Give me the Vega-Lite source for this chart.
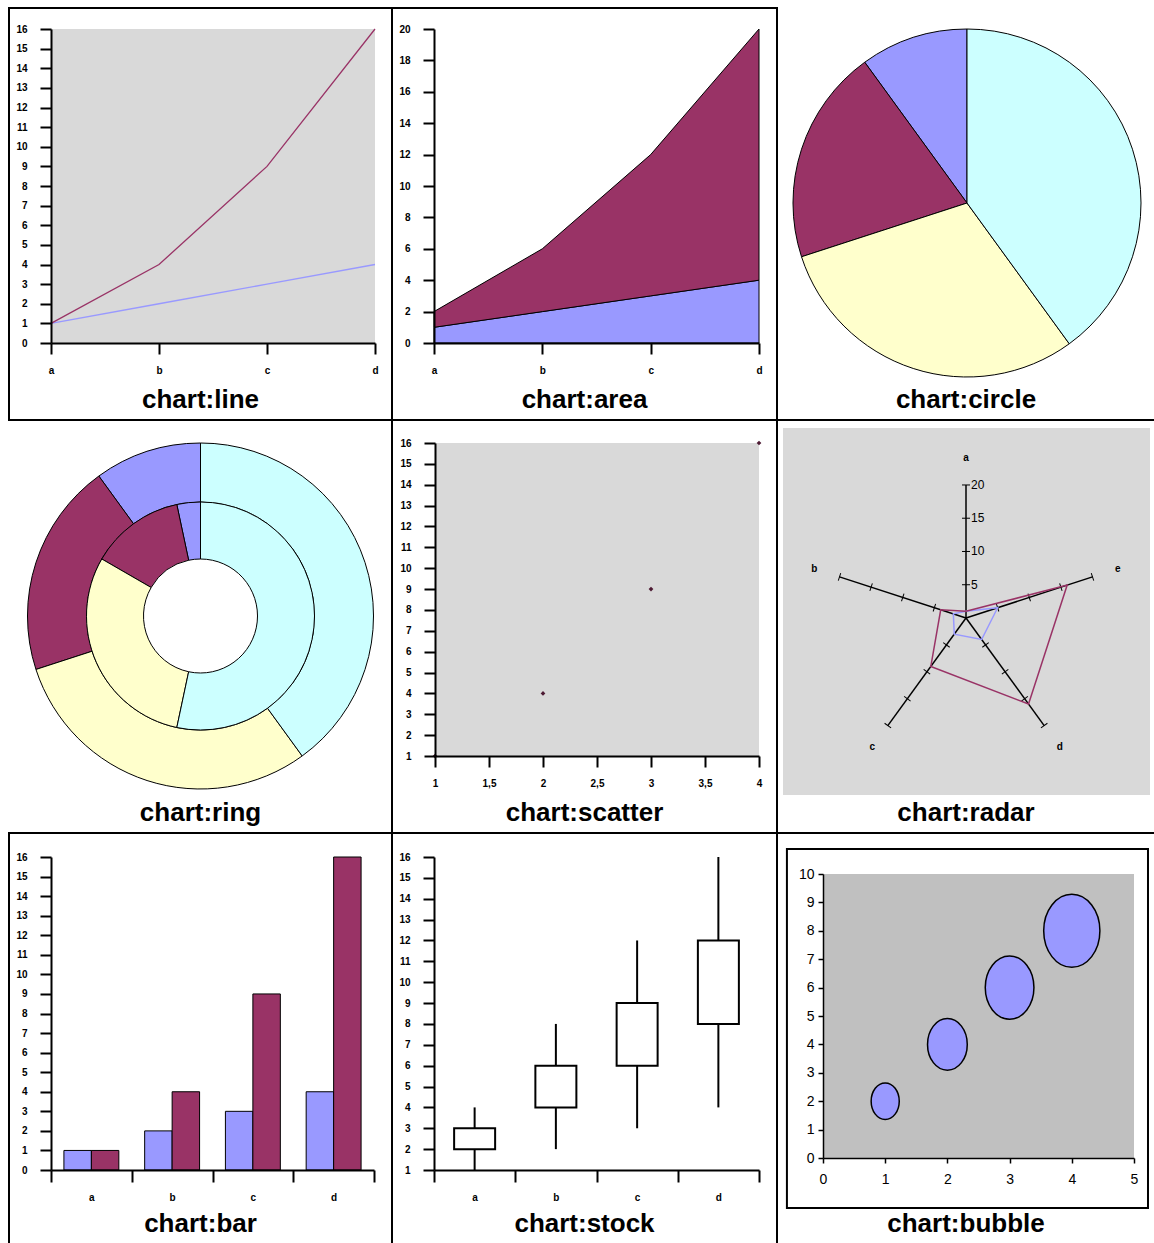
{
  "$schema": "https://vega.github.io/schema/vega-lite/v6.json",
  "padding": {"left": 8, "top": 7, "right": 0, "bottom": 0},
  "background": "white",
  "columns": 3,
  "spacing": 0,
  "bounds": "flush",
  "resolve": {"scale": {"color": "independent", "size": "independent", "theta": "independent"}},
  "config": {
    "view": {"stroke": "black", "strokeWidth": 2, "fill": "white"},
    "axis": {"grid": false, "zindex": 1, "domainColor": "black", "domainWidth": 2, "tickColor": "black", "tickWidth": 2, "tickSize": 11, "labelColor": "black", "labelFont": "Liberation Sans", "labelFontSize": 10, "labelFontWeight": "bold", "labelPadding": 13, "labelOverlap": false, "labelFlush": false},
    "title": {"font": "Liberation Sans", "fontSize": 26, "fontWeight": "bold", "color": "black", "orient": "bottom", "offset": -33, "anchor": "middle", "baseline": "top"},
    "legend": {"disable": true}
  },
  "datasets": {
    "series": [
      {"cat": "a", "i": 1, "series": "Series1", "v": 1},
      {"cat": "b", "i": 2, "series": "Series1", "v": 2},
      {"cat": "c", "i": 3, "series": "Series1", "v": 3},
      {"cat": "d", "i": 4, "series": "Series1", "v": 4},
      {"cat": "a", "i": 1, "series": "Series2", "v": 1},
      {"cat": "b", "i": 2, "series": "Series2", "v": 4},
      {"cat": "c", "i": 3, "series": "Series2", "v": 9},
      {"cat": "d", "i": 4, "series": "Series2", "v": 16}
    ],
    "pie": [{"cat": "a", "v": 1}, {"cat": "b", "v": 2}, {"cat": "c", "v": 3}, {"cat": "d", "v": 4}],
    "ringInner": [{"cat": "a", "v": 1}, {"cat": "b", "v": 4}, {"cat": "c", "v": 9}, {"cat": "d", "v": 16}],
    "scatter": [{"x": 1, "y": 1}, {"x": 2, "y": 4}, {"x": 3, "y": 9}, {"x": 4, "y": 16}],
    "radarAxes": [{"axis": "a", "k": 0}, {"axis": "b", "k": 1}, {"axis": "c", "k": 2}, {"axis": "d", "k": 3}, {"axis": "e", "k": 4}],
    "radarTicks": [
      {"axis": "a", "k": 0, "t": [5, 10, 15, 20]},
      {"axis": "b", "k": 1, "t": [5, 10, 15, 20]},
      {"axis": "c", "k": 2, "t": [5, 10, 15, 20]},
      {"axis": "d", "k": 3, "t": [5, 10, 15, 20]},
      {"axis": "e", "k": 4, "t": [5, 10, 15, 20]}
    ],
    "radarSeries": [
      {"axis": "a", "k": 0, "series": "Series1", "v": 1},
      {"axis": "b", "k": 1, "series": "Series1", "v": 2},
      {"axis": "c", "k": 2, "series": "Series1", "v": 3},
      {"axis": "d", "k": 3, "series": "Series1", "v": 4},
      {"axis": "e", "k": 4, "series": "Series1", "v": 5},
      {"axis": "a", "k": 0, "series": "Series2", "v": 1},
      {"axis": "b", "k": 1, "series": "Series2", "v": 4},
      {"axis": "c", "k": 2, "series": "Series2", "v": 9},
      {"axis": "d", "k": 3, "series": "Series2", "v": 16},
      {"axis": "e", "k": 4, "series": "Series2", "v": 16}
    ],
    "radarScale": [{"t": 5}, {"t": 10}, {"t": 15}, {"t": 20}],
    "stock": [
      {"cat": "a", "low": 1, "open": 2, "close": 3, "high": 4},
      {"cat": "b", "low": 2, "open": 4, "close": 6, "high": 8},
      {"cat": "c", "low": 3, "open": 6, "close": 9, "high": 12},
      {"cat": "d", "low": 4, "open": 8, "close": 12, "high": 16}
    ],
    "bubble": [{"x": 1, "y": 2, "s": 1}, {"x": 2, "y": 4, "s": 2}, {"x": 3, "y": 6, "s": 3}, {"x": 4, "y": 8, "s": 4}],
    "one": [{"frame": 1}]
  },
  "concat": [
    {
      "width": 383, "height": 412,
      "title": "chart:line",
      "data": {"name": "series"},
      "layer": [
        {"data": {"name": "one"}, "mark": {"type": "rect", "color": "#D9D9D9"},
         "encoding": {
           "x": {"datum": 1, "type": "quantitative", "scale": {"domain": [1, 4], "range": [42, 366], "nice": false, "zero": false},
                 "axis": {"title": null, "zindex": 1, "values": [1, 2, 3, 4], "labelExpr": "['','a','b','c','d'][datum.value]", "offset": -77, "labelPadding": 11}},
           "x2": {"datum": 4},
           "y": {"datum": 0, "type": "quantitative", "scale": {"domain": [0, 16], "range": [335, 21], "nice": false},
                 "axis": {"title": null, "zindex": 1, "values": [0, 1, 2, 3, 4, 5, 6, 7, 8, 9, 10, 11, 12, 13, 14, 15, 16], "offset": -42}},
           "y2": {"datum": 16}}},
        {"mark": {"type": "line", "strokeWidth": 1.3},
         "encoding": {
           "x": {"field": "i", "type": "quantitative", "scale": {"domain": [1, 4], "range": [42, 366], "nice": false, "zero": false},
                 "axis": {"title": null, "zindex": 1, "values": [1, 2, 3, 4], "labelExpr": "['','a','b','c','d'][datum.value]", "offset": -77, "labelPadding": 11}},
           "y": {"field": "v", "type": "quantitative", "scale": {"domain": [0, 16], "range": [335, 21], "nice": false},
                 "axis": {"title": null, "zindex": 1, "values": [0, 1, 2, 3, 4, 5, 6, 7, 8, 9, 10, 11, 12, 13, 14, 15, 16], "offset": -42}},
           "color": {"field": "series", "type": "nominal", "scale": {"domain": ["Series1", "Series2"], "range": ["#9999FF", "#993366"]}, "legend": null}
         }}
      ]
    },
    {
      "width": 385, "height": 412,
      "title": "chart:area",
      "data": {"name": "series"},
      "mark": {"type": "area", "stroke": "black", "strokeWidth": 1, "opacity": 1, "fillOpacity": 1},
      "encoding": {
        "x": {"field": "i", "type": "quantitative", "scale": {"domain": [1, 4], "range": [42, 367], "nice": false, "zero": false},
              "axis": {"title": null, "zindex": 1, "values": [1, 2, 3, 4], "labelExpr": "['','a','b','c','d'][datum.value]", "offset": -77, "labelPadding": 11}},
        "y": {"field": "v", "type": "quantitative", "stack": "zero", "scale": {"domain": [0, 20], "range": [335, 21], "nice": false},
              "axis": {"title": null, "zindex": 1, "values": [0, 2, 4, 6, 8, 10, 12, 14, 16, 18, 20], "offset": -42}},
        "order": {"field": "series", "sort": "ascending"},
        "color": {"field": "series", "type": "nominal", "scale": {"domain": ["Series1", "Series2"], "range": ["#9999FF", "#993366"]}, "legend": null}
      }
    },
    {
      "width": 378, "height": 412,
      "title": "chart:circle",
      "data": {"name": "pie"},
      "mark": {"type": "arc", "outerRadius": 174, "stroke": "black", "strokeWidth": 1, "xOffset": 1, "yOffset": -11},
      "encoding": {
        "theta": {"field": "v", "type": "quantitative", "stack": true},
        "order": {"field": "cat", "sort": "descending"},
        "color": {"field": "cat", "type": "nominal", "scale": {"domain": ["a", "b", "c", "d"], "range": ["#9999FF", "#993366", "#FFFFCC", "#CCFFFF"]}, "legend": null}
      }
    },
    {
      "width": 383, "height": 413,
      "title": "chart:ring",
      "layer": [
        {"data": {"name": "pie"},
         "mark": {"type": "arc", "innerRadius": 114, "outerRadius": 173, "stroke": "black", "strokeWidth": 1, "yOffset": -10.5},
         "encoding": {
           "theta": {"field": "v", "type": "quantitative", "stack": true},
           "order": {"field": "cat", "sort": "descending"},
           "color": {"field": "cat", "type": "nominal", "scale": {"domain": ["a", "b", "c", "d"], "range": ["#9999FF", "#993366", "#FFFFCC", "#CCFFFF"]}, "legend": null}
         }},
        {"data": {"name": "ringInner"},
         "mark": {"type": "arc", "innerRadius": 57, "outerRadius": 114, "stroke": "black", "strokeWidth": 1, "yOffset": -10.5},
         "encoding": {
           "theta": {"field": "v", "type": "quantitative", "stack": true},
           "order": {"field": "cat", "sort": "descending"},
           "color": {"field": "cat", "type": "nominal", "scale": {"domain": ["a", "b", "c", "d"], "range": ["#9999FF", "#993366", "#FFFFCC", "#CCFFFF"]}, "legend": null}
         }}
      ],
      "resolve": {"scale": {"theta": "independent"}}
    },
    {
      "width": 385, "height": 413,
      "title": "chart:scatter",
      "data": {"name": "scatter"},
      "layer": [
        {"data": {"name": "one"}, "mark": {"type": "rect", "color": "#D9D9D9"},
         "encoding": {
           "x": {"datum": 1, "type": "quantitative", "scale": {"domain": [1, 4], "range": [43, 367], "nice": false, "zero": false},
                 "axis": {"title": null, "zindex": 1, "values": [1, 1.5, 2, 2.5, 3, 3.5, 4], "labelExpr": "replace(format(datum.value, '~g'), '.', ',')", "offset": -77, "labelPadding": 11}},
           "x2": {"datum": 4},
           "y": {"datum": 1, "type": "quantitative", "scale": {"domain": [1, 16], "range": [336, 23], "nice": false, "zero": false},
                 "axis": {"title": null, "zindex": 1, "values": [1, 2, 3, 4, 5, 6, 7, 8, 9, 10, 11, 12, 13, 14, 15, 16], "offset": -43}},
           "y2": {"datum": 16}}},
        {"mark": {"type": "point", "shape": "diamond", "filled": true, "size": 22, "color": "#4D1A33", "opacity": 1},
         "encoding": {
           "x": {"field": "x", "type": "quantitative", "scale": {"domain": [1, 4], "range": [43, 367], "nice": false, "zero": false},
                 "axis": {"title": null, "zindex": 1, "values": [1, 1.5, 2, 2.5, 3, 3.5, 4], "labelExpr": "replace(format(datum.value, '~g'), '.', ',')", "offset": -77, "labelPadding": 11}},
           "y": {"field": "y", "type": "quantitative", "scale": {"domain": [1, 16], "range": [336, 23], "nice": false, "zero": false},
                 "axis": {"title": null, "zindex": 1, "values": [1, 2, 3, 4, 5, 6, 7, 8, 9, 10, 11, 12, 13, 14, 15, 16], "offset": -43}}
         }}
      ]
    },
    {
      "width": 378, "height": 413,
      "title": "chart:radar",
      "layer": [
        {"data": {"name": "one"}, "mark": {"type": "rect", "color": "#D9D9D9"},
         "encoding": {
           "x": {"datum": -27.52, "type": "quantitative", "scale": {"domain": [-28.42, 28.42], "nice": false, "zero": false}, "axis": null},
           "x2": {"datum": 27.67},
           "y": {"datum": 28.57, "type": "quantitative", "scale": {"domain": [-32.33, 29.77], "nice": false, "zero": false}, "axis": null},
           "y2": {"datum": -26.62}}},
        {"data": {"name": "radarAxes"},
         "transform": [
           {"calculate": "-datum.k * 2 * PI / 5", "as": "ang"},
           {"calculate": "20 * sin(datum.ang)", "as": "px"},
           {"calculate": "20 * cos(datum.ang)", "as": "py"}
         ],
         "mark": {"type": "rule", "color": "black", "strokeWidth": 1.5},
         "encoding": {
           "x": {"field": "px", "type": "quantitative", "scale": {"domain": [-28.42, 28.42], "nice": false, "zero": false}, "axis": null},
           "y": {"field": "py", "type": "quantitative", "scale": {"domain": [-32.33, 29.77], "nice": false, "zero": false}, "axis": null},
           "x2": {"datum": 0}, "y2": {"datum": 0}}},
        {"data": {"name": "radarTicks"},
         "transform": [
           {"flatten": ["t"]},
           {"calculate": "-datum.k * 2 * PI / 5", "as": "ang"},
           {"calculate": "datum.t * sin(datum.ang)", "as": "px"},
           {"calculate": "datum.t * cos(datum.ang)", "as": "py"},
           {"calculate": "-datum.k * 72", "as": "deg"}
         ],
         "mark": {"type": "point", "shape": "M -1 0 L 1 0", "filled": false, "stroke": "black", "strokeWidth": 1, "size": 64, "opacity": 1},
         "encoding": {
           "x": {"field": "px", "type": "quantitative", "scale": {"domain": [-28.42, 28.42], "nice": false, "zero": false}, "axis": null},
           "y": {"field": "py", "type": "quantitative", "scale": {"domain": [-32.33, 29.77], "nice": false, "zero": false}, "axis": null},
           "angle": {"field": "deg", "type": "quantitative", "scale": null}}},
        {"data": {"name": "radarSeries"},
         "transform": [
           {"calculate": "-datum.k * 2 * PI / 5", "as": "ang"},
           {"calculate": "datum.v * sin(datum.ang)", "as": "px"},
           {"calculate": "datum.v * cos(datum.ang)", "as": "py"}
         ],
         "mark": {"type": "line", "interpolate": "linear-closed", "strokeWidth": 1.5},
         "encoding": {
           "x": {"field": "px", "type": "quantitative", "scale": {"domain": [-28.42, 28.42], "nice": false, "zero": false}, "axis": null},
           "y": {"field": "py", "type": "quantitative", "scale": {"domain": [-32.33, 29.77], "nice": false, "zero": false}, "axis": null},
           "order": {"field": "k", "type": "quantitative"},
           "color": {"field": "series", "type": "nominal", "scale": {"domain": ["Series1", "Series2"], "range": ["#9999FF", "#993366"]}, "legend": null}
         }},
        {"data": {"name": "radarAxes"},
         "transform": [
           {"calculate": "-datum.k * 2 * PI / 5", "as": "ang"},
           {"calculate": "24 * sin(datum.ang)", "as": "px"},
           {"calculate": "24 * cos(datum.ang)", "as": "py"}
         ],
         "mark": {"type": "text", "font": "Liberation Sans", "fontSize": 10, "fontWeight": "bold", "color": "black"},
         "encoding": {
           "x": {"field": "px", "type": "quantitative", "scale": {"domain": [-28.42, 28.42], "nice": false, "zero": false}, "axis": null},
           "y": {"field": "py", "type": "quantitative", "scale": {"domain": [-32.33, 29.77], "nice": false, "zero": false}, "axis": null},
           "text": {"field": "axis"}}},
        {"data": {"name": "radarScale"},
         "mark": {"type": "text", "font": "Liberation Sans", "fontSize": 12, "align": "left", "dx": 5, "color": "black"},
         "encoding": {
           "x": {"datum": 0, "type": "quantitative", "scale": {"domain": [-28.42, 28.42], "nice": false, "zero": false}, "axis": null},
           "y": {"field": "t", "type": "quantitative", "scale": {"domain": [-32.33, 29.77], "nice": false, "zero": false}, "axis": null},
           "text": {"field": "t"}}}
      ]
    },
    {
      "width": 383, "height": 411,
      "title": "chart:bar",
      "data": {"name": "series"},
      "mark": {"type": "bar", "stroke": "black", "strokeWidth": 1},
      "encoding": {
        "x": {"field": "cat", "type": "nominal", "scale": {"range": [42, 365], "paddingInner": 0, "paddingOuter": 0},
              "axis": {"title": null, "zindex": 1, "labelAngle": 0, "tickBand": "extent", "offset": -74, "tickSize": 12, "labelPadding": 10}},
        "xOffset": {"field": "series", "type": "nominal", "scale": {"paddingOuter": 0.47, "paddingInner": 0}},
        "y": {"field": "v", "type": "quantitative", "scale": {"domain": [0, 16], "range": [337, 24], "nice": false},
              "axis": {"title": null, "zindex": 1, "values": [0, 1, 2, 3, 4, 5, 6, 7, 8, 9, 10, 11, 12, 13, 14, 15, 16], "offset": -42}},
        "color": {"field": "series", "type": "nominal", "scale": {"domain": ["Series1", "Series2"], "range": ["#9999FF", "#993366"]}, "legend": null}
      }
    },
    {
      "width": 385, "height": 411,
      "title": "chart:stock",
      "data": {"name": "stock"},
      "layer": [
        {"mark": {"type": "rule", "color": "black", "strokeWidth": 2},
         "encoding": {
           "x": {"field": "cat", "type": "nominal", "scale": {"range": [42, 367], "paddingInner": 0, "paddingOuter": 0},
                 "axis": {"title": null, "zindex": 1, "labelAngle": 0, "tickBand": "extent", "offset": -74, "tickSize": 12, "labelPadding": 10}},
           "y": {"field": "low", "type": "quantitative", "scale": {"domain": [1, 16], "range": [337, 24], "nice": false, "zero": false},
                 "axis": {"title": null, "zindex": 1, "values": [1, 2, 3, 4, 5, 6, 7, 8, 9, 10, 11, 12, 13, 14, 15, 16], "offset": -42}},
           "y2": {"field": "high"}
         }},
        {"mark": {"type": "bar", "fill": "white", "stroke": "black", "strokeWidth": 2, "size": 41},
         "encoding": {
           "x": {"field": "cat", "type": "nominal", "scale": {"range": [42, 367], "paddingInner": 0, "paddingOuter": 0},
                 "axis": {"title": null, "zindex": 1, "labelAngle": 0, "tickBand": "extent", "offset": -74, "tickSize": 12, "labelPadding": 10}},
           "y": {"field": "open", "type": "quantitative", "scale": {"domain": [1, 16], "range": [337, 24], "nice": false, "zero": false},
                 "axis": {"title": null, "zindex": 1, "values": [1, 2, 3, 4, 5, 6, 7, 8, 9, 10, 11, 12, 13, 14, 15, 16], "offset": -42}},
           "y2": {"field": "close"}
         }}
      ]
    },
    {
      "width": 378, "height": 411,
      "title": "chart:bubble",
      "data": {"name": "bubble"},
      "layer": [
        {"data": {"name": "one"}, "mark": {"type": "rect", "fill": "#C0C0C0"},
         "encoding": {
           "x": {"datum": 0, "type": "quantitative", "scale": {"domain": [0, 5], "range": [46, 357], "nice": false, "zero": false},
                 "axis": {"title": null, "zindex": 1, "values": [0, 1, 2, 3, 4, 5], "offset": -86, "tickSize": 5, "labelPadding": 9, "labelFontSize": 14, "labelFontWeight": "normal", "domainWidth": 1.5, "tickWidth": 1.5}},
           "x2": {"datum": 5},
           "y": {"datum": 0, "type": "quantitative", "scale": {"domain": [0, 10], "range": [325, 41], "nice": false, "zero": false},
                 "axis": {"title": null, "zindex": 1, "values": [0, 1, 2, 3, 4, 5, 6, 7, 8, 9, 10], "offset": -46, "tickSize": 5, "labelPadding": 4, "labelFontSize": 14, "labelFontWeight": "normal", "domainWidth": 1.5, "tickWidth": 1.5}},
           "y2": {"datum": 10}}},
        {"mark": {"type": "point", "shape": "M 0.77 0 C 0.77 0.5523 0.4253 1 0 1 C -0.4253 1 -0.77 0.5523 -0.77 0 C -0.77 -0.5523 -0.4253 -1 0 -1 C 0.4253 -1 0.77 -0.5523 0.77 0 Z", "filled": true, "fill": "#9999FF", "stroke": "black", "strokeWidth": 1.5, "opacity": 1},
         "encoding": {
           "x": {"field": "x", "type": "quantitative", "scale": {"domain": [0, 5], "range": [46, 357], "nice": false, "zero": false},
                 "axis": {"title": null, "zindex": 1, "values": [0, 1, 2, 3, 4, 5], "offset": -86, "tickSize": 5, "labelPadding": 9, "labelFontSize": 14, "labelFontWeight": "normal", "domainWidth": 1.5, "tickWidth": 1.5}},
           "y": {"field": "y", "type": "quantitative", "scale": {"domain": [0, 10], "range": [325, 41], "nice": false, "zero": false},
                 "axis": {"title": null, "zindex": 1, "values": [0, 1, 2, 3, 4, 5, 6, 7, 8, 9, 10], "offset": -46, "tickSize": 5, "labelPadding": 4, "labelFontSize": 14, "labelFontWeight": "normal", "domainWidth": 1.5, "tickWidth": 1.5}},
           "size": {"field": "s", "type": "quantitative", "scale": {"domain": [0, 4], "range": [0, 5329]}, "legend": null}
         }},
        {"data": {"name": "one"}, "mark": {"type": "rect", "filled": false, "fill": null, "stroke": "black", "strokeWidth": 2},
         "encoding": {
           "x": {"datum": -0.58, "type": "quantitative", "scale": {"domain": [0, 5], "range": [46, 357], "nice": false, "zero": false},
                 "axis": {"title": null, "zindex": 1, "values": [0, 1, 2, 3, 4, 5], "offset": -86, "tickSize": 5, "labelPadding": 9, "labelFontSize": 14, "labelFontWeight": "normal", "domainWidth": 1.5, "tickWidth": 1.5}},
           "x2": {"datum": 5.225},
           "y": {"datum": 10.88, "type": "quantitative", "scale": {"domain": [0, 10], "range": [325, 41], "nice": false, "zero": false},
                 "axis": {"title": null, "zindex": 1, "values": [0, 1, 2, 3, 4, 5, 6, 7, 8, 9, 10], "offset": -46, "tickSize": 5, "labelPadding": 4, "labelFontSize": 14, "labelFontWeight": "normal", "domainWidth": 1.5, "tickWidth": 1.5}},
           "y2": {"datum": -1.76}}}
      ]
    }
  ]
}
